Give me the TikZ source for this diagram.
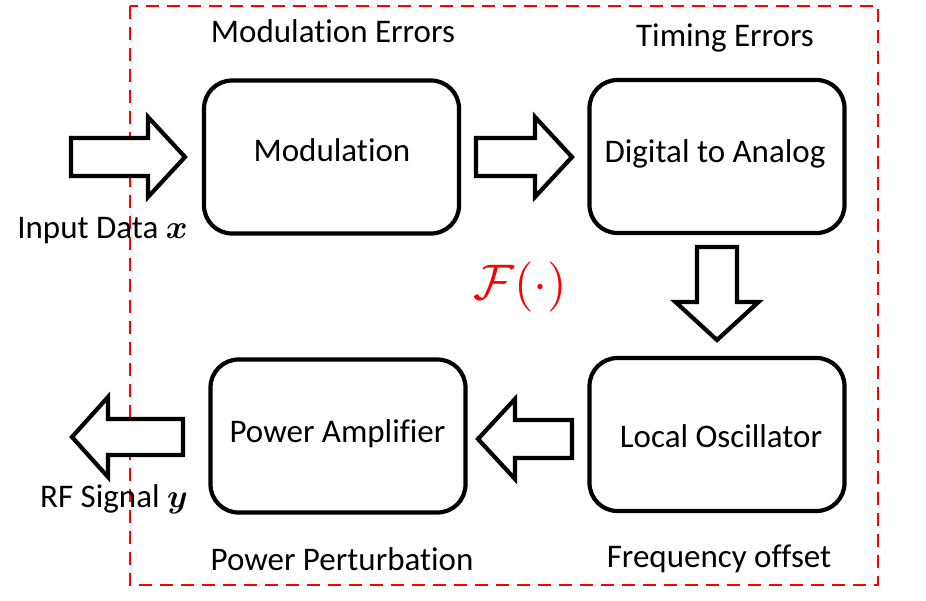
\documentclass[tikz,border=0pt]{standalone}
\usepackage{amsmath}
\usepackage{graphicx}
\usepackage{fontspec}
\setmainfont{Carlito}[Ligatures=NoCommon]
\usetikzlibrary{calc}
\newcommand{\bigmath}[1]{\scalebox{3.3}{\normalsize$\boldsymbol{#1}$}}
\tikzset{
  box/.style={draw=black, line width=4.2pt, rounded corners=28pt, minimum width=255pt, minimum height=153pt, inner sep=0pt},
  lbl/.style={font=\fontsize{33}{38}\selectfont, anchor=base, inner sep=0pt},
  frame/.style={draw=red, line width=2.8pt, dash pattern=on 13pt off 8pt},
  blockarrow/.style={draw=black, line width=4.2pt, fill=white, line join=miter},
  pics/barrow/.style args={#1/#2/#3/#4}{code={
    \draw[blockarrow] (0,-#2) -- (#1-#4,-#2) -- (#1-#4,-#3) -- (#1,0) -- (#1-#4,#3) -- (#1-#4,#2) -- (0,#2) -- cycle;
  }}
}
\begin{document}
\begin{tikzpicture}[x=1pt,y=-1pt]
\useasboundingbox (0,0) rectangle (926,600);
\draw[frame] (130,6) rectangle (878,585);
% boxes
\node[box] (mod) at (331.5,157) {};
\node[box] (dac) at (717,156.5) {};
\node[box] (pa)  at (338,436) {};
\node[box] (lo)  at (717,434.5) {};
% box texts
\node[lbl] (tmod) at (332,161) {Modulation};
\node[lbl] (tdac) at (715,162) {Digital to Analog};
\node[lbl] (tpa)  at (337.5,442) {Power Amplifier};
\node[lbl] (tlo)  at (721,447) {Local Oscillator};
% outer labels
\node[lbl] (emod) at (333,42) {Modulation Errors};
\node[lbl] (etim) at (725,46) {Timing Errors};
\node[lbl] (epow) at (342,570) {Power Perturbation};
\node[lbl] (efrq) at (719,567) {Frequency offset};
\node[lbl] (inp)  at (102.5,238) {Input Data \bigmath{x}};
\node[lbl] (out)  at (114,507) {RF Signal \bigmath{y}};
\node[text=red, inner sep=0pt] (F) at (520,287) {\scalebox{5}{\normalsize$\mathcal{F}(\cdot)$}};
% block arrows
\pic at (71,157) {barrow=114/19/40/37};
\pic at (476,157) {barrow=96/19/40/37};
\pic[rotate=-90] at (717,247) {barrow=93/20/41.5/38};
\pic[rotate=180] at (572,439) {barrow=94/19/40/37};
\pic[rotate=180] at (183,437) {barrow=111/18/40/36};
\end{tikzpicture}
\end{document}
